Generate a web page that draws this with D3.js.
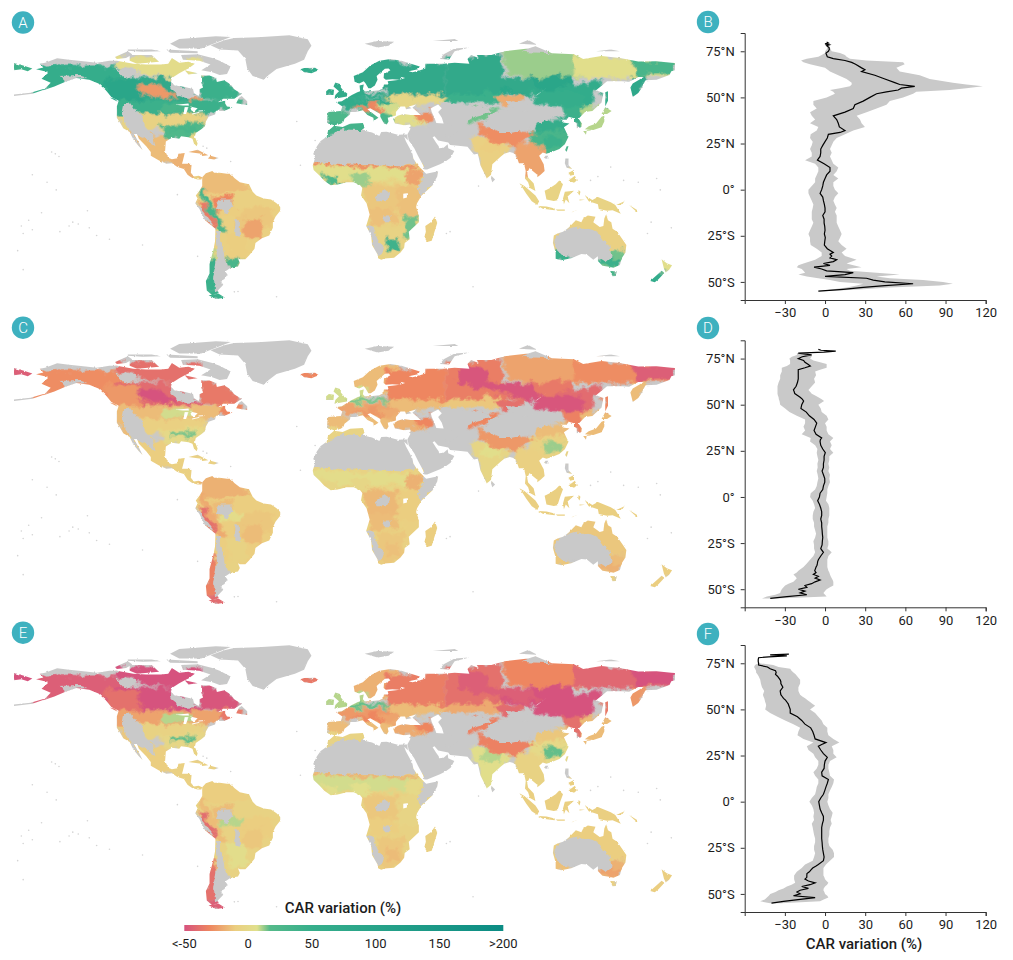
<!DOCTYPE html>
<html>
<head>
<meta charset="utf-8">
<script src="https://cdn.jsdelivr.net/npm/d3@7"></script>
<style>
  body { margin: 0; background: #fff; }
  text { font-family: Roboto, sans-serif; fill: #1c1c1c; }
</style>
</head>
<body>
<div id="chart"></div>
<script>
// ---- coastlines, [lon, lat]
const landShapes = [
  // north america
  [[-168,65.5],[-164,66.5],[-166,68.5],[-163,69],[-156.5,71.3],[-150,70.5],[-141,69.7],[-135,69],[-128,70],[-124,70],[-115,68.5],[-108,68],[-100,68],[-96,68.5],[-94,71.5],[-90,69],[-85,69.5],[-81.5,68.5],[-85,66],[-87,65],[-90,63.5],[-94,61],[-94.5,58.8],[-92.5,57],[-88,56.5],[-82.5,55.2],[-82,53],[-79.5,51.5],[-79,52.5],[-79,55],[-77,56],[-78,58.5],[-78,62.4],[-73.5,62.3],[-70,61],[-69.5,58.8],[-65.5,59.8],[-62,57.5],[-60,55],[-56,52.5],[-60,50],[-66,50],[-69,48.2],[-65,49],[-65,47.5],[-64,46],[-61,45.5],[-65.5,43.6],[-70,43.7],[-70.5,41.7],[-74,40.5],[-75.5,38],[-76,35.5],[-78,34],[-81,32],[-81.5,30],[-80,26.5],[-80.5,25],[-82,26.5],[-82.8,29],[-85,29.7],[-89,30.3],[-90,29],[-94,29.5],[-97.3,27.5],[-97.7,22.5],[-96,19],[-94,18.2],[-91,18.7],[-90.5,21],[-87,21.5],[-88,17.5],[-88.5,15.8],[-84,15.8],[-83.3,15],[-83.7,11],[-82,9],[-79.5,9.5],[-77.5,8.7],[-78,7.5],[-80,7.5],[-81,7.8],[-83,8.3],[-85.5,10],[-87.5,13],[-91,14],[-94,16],[-97,15.8],[-101,17.5],[-105.5,20],[-105.5,22],[-108,25],[-112,29],[-113,31.5],[-114.7,31.5],[-112,27],[-110,23],[-112,25],[-115,28.5],[-117,32.5],[-120.5,34.5],[-122,37],[-124,40],[-124,46],[-123,49],[-127,51],[-130,54.5],[-134,58],[-139,60],[-146,61],[-152,59],[-158,56.5],[-164,54.5],[-160,58.5],[-165,60.5],[-161,64]],
  // arctic canada
  [[-80,73.5],[-72,71.5],[-68,70],[-62,67],[-64,63],[-68,62.5],[-72,64],[-78,65],[-73,68],[-79,70],[-88,70.5],[-89,73]],
  [[-117,73],[-105,73],[-101,69.5],[-113,68.5],[-117,70]],
  [[-125,72],[-118,75],[-115.5,73.3],[-119,71.5],[-124,71]],
  [[-90,76.5],[-78,76.5],[-62,82.5],[-70,83],[-90,81.5],[-95,79]],
  [[-97,76],[-80,75],[-80,74],[-95,74.3]],
  [[-118,76],[-105,76],[-100,75],[-110,74.8],[-118,75.3]],
  [[-87,65],[-80,63.5],[-85,62.8]],
  // greenland, iceland, north atlantic
  [[-73,78.2],[-68,76],[-58,75.5],[-54,71],[-53,66],[-50,62],[-44,60],[-42,62],[-37,65.7],[-27,68.5],[-22,70.5],[-20,75],[-18,78],[-20,81.3],[-30,83.5],[-45,82.5],[-60,82],[-65,81]],
  [[-24,65.5],[-22,64],[-18,63.5],[-14,65],[-16,66.4],[-22,66.2]],
  [[-5.5,50],[1.3,51.2],[1.5,52.8],[-0.3,54],[-2,56],[-2,57.6],[-5,58.6],[-6,56.5],[-3,54],[-5,52]],
  [[-10,52],[-6,52],[-5.7,54.8],[-8.5,55.2],[-10,54]],
  [[-59,47.7],[-53,46.7],[-53,48.7],[-56,51.5],[-57.5,50.5]],
  [[-128,50.7],[-123.5,48.4],[-125,50]],
  [[11,79],[18,77],[24,78],[27,80],[18,80.5]],
  [[52,71],[57,70.7],[60,75],[68,77],[60,76.5],[54,73.5]],
  [[95,79],[105,78.5],[100,81]],
  [[48,80.5],[62,80.5],[60,81.5]],
  [[137,75],[150,75],[145,76]],
  // dateline bits
  [[-180,68.8],[-175,67.5],[-170,66],[-172.5,64.5],[-176,65.5],[-180,65]],
  [[-180,51.5],[-170,52.7],[-163,55],[-164,55.2],[-171,53.2],[-180,52.2]],
  // eurasia
  [[-9,37],[-9.5,39],[-9,43],[-2,43.5],[-1.2,46],[-4.7,48.3],[-1.5,48.7],[1.5,50.5],[4,52],[7,53.5],[8.5,54],[8.2,57],[10.5,57.5],[10,55],[11,54],[14,54],[19,54.5],[21,55.5],[21.5,57.5],[24,57.5],[23.5,59.2],[28,59.7],[30,60],[26,60.3],[22.5,60],[21.3,61],[21.5,63],[25,65],[24,66],[22,65.8],[17.5,62],[18,60],[16.5,57],[14.3,55.5],[13,55.5],[11.5,58],[10.5,59.3],[8,58],[5.5,59],[5,62],[10,64],[14,67.5],[19,70],[25,71],[31,70],[41,67],[40,65.5],[35,64.5],[37,64],[40,64.7],[44,66],[44,68.5],[54,68.5],[60,69],[68,68.5],[67,71],[69,73],[73,71.5],[72,73],[80,73],[87,75],[100,76.5],[104,77.7],[113,74],[125,73.5],[130,71],[140,72.5],[150,71.5],[160,69.7],[170,69.8],[178,69],[180,68.8],[180,65],[178,64.5],[177,62.5],[170,60],[164,59.8],[163,58],[162,56],[160,53],[157,51],[155.7,56],[157,58],[163,61.5],[160,61.5],[155,59],[151,59.2],[143,59.3],[137,54.5],[141,53],[140,48],[135,43.5],[131,43],[128,40],[127.5,39.5],[129.3,37],[129,35],[126.5,34.5],[126.5,37],[125,38],[125,39.7],[122,40.5],[121.5,39],[118,39],[119,37.5],[122.5,37],[119.5,35],[121,32],[122,30],[120,26],[117,23.5],[113,22],[110,21],[108,21.7],[106,20],[108.5,15.5],[109,12],[106.8,10],[105,8.7],[105,10],[102.5,12],[100.8,13.5],[99.5,11],[100,8.5],[103,5.5],[104,1.4],[101,3],[100,6],[98.3,8],[98.7,12],[97.7,16],[95,16],[94.3,18],[92,21.5],[90,22],[87,21],[85,19.5],[80.5,15.5],[80.2,13],[79.8,10],[77.5,8],[76,11],[74,15],[73,19.5],[72.5,21],[70.5,20.7],[69,22.3],[67,24.7],[62,25.3],[57.5,25.7],[56.5,27],[51,28],[49,30.2],[48,29.7],[50,26.7],[51.3,25],[51.5,24],[54,24.2],[56.2,26],[56.5,24],[59.8,22.5],[57.8,19],[55,17],[52,15.5],[45,12.8],[43.5,12.7],[42.8,15],[40,20],[38,24],[35,28],[34.7,29.5],[34.3,31.3],[35.8,34],[36,36.5],[32.5,36],[30.5,36.5],[27.5,37],[26.5,39.5],[29,41],[32,42],[36,41.5],[41.5,41.5],[38,44.5],[37,45.3],[39,47],[35,46],[36.5,45],[33.5,44.5],[33,46],[30.5,46],[28,43],[28,41.2],[26,40.7],[23.5,40],[24,38],[23,36.5],[21.5,37],[19.5,40.5],[19.5,42],[14,45],[12.5,44.5],[16,41.8],[18.5,40],[16.8,39],[16,38],[15.7,40],[12.5,41.5],[10,44],[6,43],[3.2,43],[3,41.7],[0,39.5],[-0.5,38],[-2,36.8],[-5.5,36]],
  // africa
  [[-5.8,35.8],[-1,35.2],[3,36.8],[10,37.3],[11,35],[10,33.8],[11.5,33],[15,32.3],[19,30.4],[20,32.5],[23,32.6],[29,31],[32.5,31.2],[34.2,31.2],[34.5,28.2],[32.5,30],[33.5,27.5],[35.5,24],[37,21],[37.5,18.5],[39.5,15.5],[43,12],[43.3,11.5],[44.5,10.5],[51,11.8],[50.5,9],[48,4.5],[42,-1],[39.5,-5],[39,-7],[40.5,-11],[40.5,-15],[35,-20],[35.5,-24],[32.8,-26],[32.5,-28.5],[30.5,-31],[27,-33.8],[22,-34.2],[20,-34.8],[18.3,-34],[18,-32],[15,-27],[14.5,-22],[11.8,-17],[13.7,-11],[12,-5],[9,-1],[9.7,3],[8.5,4.5],[5,6],[1,6],[-3,5],[-7.5,4.5],[-11,6.8],[-13.5,9.5],[-16.8,12.5],[-17.3,14.7],[-16,19],[-17,21],[-15,25],[-13,27.7],[-9.7,30],[-9,33],[-6,35.5]],
  [[49.3,-12],[50.5,-15.5],[47.5,-24.8],[45,-25.5],[43.5,-23],[44.3,-20],[44,-17],[47,-15]],
  // south america
  [[-77.5,8.7],[-75.5,10.8],[-72,12],[-71,11],[-68,11],[-64,10.5],[-62,10.5],[-60,8.3],[-57,6],[-52,5],[-50,1],[-48,-1],[-44,-2.5],[-40,-3],[-37,-5],[-35,-7],[-35,-9],[-37.5,-12],[-39,-15],[-39,-18],[-41,-22],[-45,-23.5],[-48.5,-26],[-49,-29],[-52,-32.5],[-54,-34.5],[-57,-34.5],[-58,-34],[-57,-36.5],[-58,-38.3],[-62,-39],[-65,-41],[-63.7,-42.5],[-65.5,-45],[-67.5,-46],[-66,-48],[-69,-51],[-68.5,-52.5],[-72,-53.5],[-75,-51],[-75.5,-46],[-73.5,-42],[-73.5,-37],[-71.5,-30],[-70.5,-25],[-70.3,-18.5],[-76,-14],[-79,-8],[-81.3,-5],[-80,-2.5],[-81,-1],[-79,1.5],[-77.5,4],[-77.5,7]],
  [[-68.5,-52.7],[-65,-54.8],[-70,-55.5],[-74,-53.5]],
  [[-85,22],[-80,23.2],[-74.2,20.2],[-77.5,19.9],[-78,21]],
  [[-74.4,18.5],[-73,20],[-68.5,18.8],[-71,18]],
  // australasia
  [[114,-22],[113.5,-26],[115,-31],[115,-34.3],[118,-35],[123.5,-34],[129,-31.7],[132,-32],[135.5,-34.8],[138,-33],[138,-35.5],[140.5,-38],[144,-38.5],[146.5,-39],[150,-37.5],[151,-34],[153,-31],[153.5,-27],[151,-23.5],[148.5,-20],[146,-18.5],[145.3,-15],[143.5,-14],[142.5,-10.8],[141.5,-13],[141,-17],[139,-17.5],[135.5,-15],[136.7,-12.2],[132.5,-11.5],[130,-13],[129,-15],[126,-14],[122,-18],[119,-20],[116,-21]],
  [[144.7,-40.7],[148.3,-40.8],[147.8,-43.3],[146,-43.5]],
  [[172.7,-34.5],[175.5,-36.7],[178.4,-37.7],[176.8,-40],[175,-41.5],[174,-39.5]],
  [[172.7,-40.6],[174.3,-41.7],[171,-45],[169,-46.7],[166.5,-46],[170,-43]],
  // east and southeast asia islands
  [[142,46],[143.5,49],[143.5,54],[142,53.5],[142,48]],
  [[140,42],[143,42],[145.5,43.5],[142,45.5]],
  [[130.9,34],[135.5,33.5],[140,35],[141.5,38],[141.5,41],[140,40.5],[137,37],[133,35.5]],
  [[130,33],[131.5,31],[132,33.5],[134.3,34],[134,33.3]],
  [[120.2,23],[121,22],[122,25],[121,25]],
  [[108.7,19],[110,18.3],[111,20],[109.5,20]],
  [[80,9.5],[82,7.5],[80.5,6],[79.8,8]],
  [[95.3,5.5],[98,4],[104,-1],[106,-4],[105,-6],[102,-4],[99,0],[97,3]],
  [[105.5,-6.5],[110,-6.8],[114.5,-7.8],[114.5,-8.7],[108,-7.9]],
  [[109,1.5],[111.5,2.8],[115,5],[117,7],[119,5],[117.5,1],[116,-3.5],[114,-3.8],[110,-3]],
  [[119.5,-5.5],[120.5,-3],[122.5,-5],[121.5,-1.5],[125,1.5],[120,1],[119,-2.5]],
  [[131,-1],[135,-3.3],[138,-1.7],[145,-4.5],[147.5,-6],[150.5,-10.5],[146,-8.7],[143,-9],[138.5,-8],[138,-5.5],[133,-4]],
  [[120.3,18.5],[122,18.5],[122,15],[124,13],[121,13.7],[120,16]],
  [[122,7],[125.5,9.5],[126.5,7],[125,5.8]],
  [[122,11],[125,12.5],[125,10],[123,9.5]],
  [[123.5,-10],[127,-8.5],[125,-9.3]],
  [[115,-8.3],[120,-8.3],[120,-9],[116,-9]],
  [[148,-6],[152.5,-4],[151,-6]],
  [[155,-6],[160,-9],[159,-9.5]],
  [[127.5,2],[128.5,1],[128,-1],[127.3,0]],
  [[128,-3],[131,-3.2],[128,-3.6]]
];

const inlandWater = [
  [[47,45],[51,47],[53,45],[51,43],[53,40],[54,37],[50,37.2],[49,40],[47.5,43]],
  [[-92,46.8],[-85,47.5],[-84.7,46.5],[-88,46.5]],
  [[-87.8,42],[-86.3,42],[-85,45.5],[-87,45.7]],
  [[-84,46],[-80,45],[-82,43],[-83.5,44]],
  [[-83,41.7],[-79,42.7],[-79.2,43],[-83,42.3]],
  [[-79.5,43.3],[-76.3,43.5],[-76.3,44],[-79.5,43.8]],
  [[104,51.6],[110,55.7],[109,55],[105,52]],
  [[30,60],[33,61],[31,61.5]],
  [[32,-2.5],[34,-2],[34,0.3],[32,0]]
];

// tiny pacific and indian ocean islands
const specks = [[-157.5,21],[-155.5,19.6],[-159.5,22],[-91,-0.5],[-172,-14],[-175,-21],[178,-18],[170,8],[172,2],[167,-15],[165,-21],[-150,-17],[-145,-16],[-140,-9],[-139,-18],[-148,-15],[-170,-19],[-176,-17],[160,6],[152,7],[145,14],[138,9],[134,7],[55.5,-21],[57.5,-20],[73,4],[-60,-51.7],[-58,-51.5],[-37,-54.3],[70,-49],[-16,28],[-24,15],[-26,38],[-175,-40],[-178,-30],[-165,-10],[-155,-20],[-135,-22],[-128,-24],[-110,-27],[-80,-33],[-170,10],[-162,6],[-157,2],[-75,24],[-77,25],[-62,17]];

// ---- CAR variation patches: painted in this order over the land
const zoneShapes = [
  [[-125,72],[-78,72],[-78,62],[-95,61],[-110,63],[-125,67]],
  [[-170,67],[-140,68.5],[-125,67],[-115,62],[-120,55],[-130,52],[-140,58],[-170,52]],
  [[-125,62],[-95,61],[-85,55],[-78,50],[-95,48],[-120,49],[-128,54]],
  [[-132,60],[-112,60],[-110,49],[-120,45],[-126,48]],
  [[-115,57],[-100,57],[-95,53],[-90,51],[-97,49.5],[-108,52]],
  [[-85,52],[-76,51],[-78,48.5],[-85,49]],
  [[-80,63],[-64,60],[-56,52],[-66,49],[-78,50]],
  [[-72,49],[-60,50],[-52,47],[-60,44],[-70,43],[-75,45]],
  [[-125,49],[-65,49],[-68,43],[-80,40],[-95,42],[-112,42],[-125,42]],
  [[-125,42],[-118,42],[-115,33],[-120,33]],
  [[-112,42],[-75,42],[-75,36],[-95,34],[-105,34],[-112,36]],
  [[-100,47],[-82,47],[-82,43],[-100,43]],
  [[-100,36],[-76,38],[-76,29],[-98,28]],
  [[-95,35.5],[-82,35.5],[-82,32.5],[-95,32.5]],
  [[-84,31],[-79,31],[-79,24],[-84,24]],
  [[-118,33],[-97,30],[-94,16],[-106,17]],
  [[-98,22],[-68,24],[-76,6],[-90,11]],
  // south america
  [[-83,13],[-60,13],[-34,-5],[-36,-24],[-50,-36],[-60,-40],[-75,-36],[-72,-18],[-82,-5]],
  [[-80,12],[-60,12],[-50,2],[-70,0],[-78,0]],
  [[-72,-2],[-62,-1],[-60,-8],[-70,-10]],
  [[-60,-8],[-40,-6],[-38,-15],[-50,-22],[-60,-18]],
  [[-55,-14],[-44,-14],[-46,-24],[-55,-24]],
  [[-68,-8],[-55,-7],[-55,-11],[-68,-12]],
  [[-65,-20],[-55,-20],[-52,-32],[-62,-35]],
  [[-65,-34],[-56,-34],[-57,-39],[-65,-39]],
  [[-79,3],[-76,3],[-72,-6],[-66,-15],[-64,-20],[-68,-20],[-76,-8]],
  [[-81,-4],[-77,-5],[-69,-17],[-71,-18],[-76,-12]],
  [[-72,-30],[-69,-30],[-70,-37],[-74,-37]],
  [[-76,-36],[-70,-36],[-70,-51],[-76,-51]],
  [[-76,-51],[-64,-51],[-64,-56],[-76,-56]],
  // africa
  [[-20,18],[52,18],[52,-36],[10,-36]],
  [[-18,15.5],[10,14],[40,13.5],[40,7],[10,7],[-15,8]],
  [[-18,17.5],[10,16],[40,15],[40,13.5],[10,14],[-18,15.5]],
  [[-14,10],[-5,9],[0,5],[-8,4]],
  [[3,10],[14,10],[14,3],[5,4]],
  [[10,5],[30,5],[30,-8],[12,-8]],
  [[13,-8],[28,-8],[30,-16],[14,-17]],
  [[29,4],[42,3],[40,-12],[30,-12]],
  [[34,14],[43,12],[40,4],[34,4]],
  [[33,-12],[41,-12],[36,-24],[30,-22]],
  [[18,-18],[32,-18],[33,-30],[27,-34],[18,-34]],
  [[22,-24],[30,-24],[30,-30],[23,-30]],
  [[43,-11],[51,-11],[48,-26],[43,-26]],
  // europe
  [[4,71],[30,71],[30,55],[4,55]],
  [[22,68],[55,70],[55,50],[22,50]],
  [[-5,50],[30,50],[30,45],[-5,45]],
  [[-11,59],[12,59],[12,50],[-11,50]],
  [[2,53],[25,53],[25,50.5],[2,50.5]],
  [[22,52],[58,52],[55,47],[28,46]],
  [[10,47],[30,47],[30,40],[12,40]],
  [[3,46],[16,47.5],[22,44],[20,43],[12,44]],
  [[-10,44],[3,44],[2,36],[-10,36]],
  [[-10,37.5],[12,38],[12,32],[-10,29]],
  [[8,45],[30,41],[28,36],[15,36]],
  [[26,43],[45,43],[45,36],[26,36]],
  [[38,43],[48,43],[47,37],[40,38]],
  [[-25,67],[-13,67],[-13,63],[-25,63]],
  // russia and central asia
  [[55,72],[85,74],[90,50],[55,52]],
  [[85,77],[140,75],[140,62],[110,60],[90,62]],
  [[125,73],[180,72],[180,62],[150,60],[125,62]],
  [[155,71],[180,70],[180,63],[160,62]],
  [[-180,70],[-168,70],[-168,63],[-180,63]],
  [[85,60],[125,62],[125,52],[95,52],[85,54]],
  [[115,56],[140,60],[135,48],[130,42],[118,46]],
  [[62,70],[75,70],[78,62],[100,60],[108,54],[100,52],[80,57],[62,60]],
  [[155,62],[165,62],[162,50],[155,50]],
  [[100,54],[130,54],[130,46],[105,47]],
  [[55,52],[85,54],[85,48],[55,47]],
  [[82,52],[98,52],[96,48],[84,47]],
  [[68,44],[85,45],[82,40],[68,37]],
  // south and east asia
  [[100,33],[122,33],[122,21],[105,21]],
  [[105,38],[125,41],[122,33],[103,33]],
  [[118,46],[135,46],[130,33],[122,38]],
  [[92,27],[110,25],[110,6],[98,6],[92,18]],
  [[68,30],[90,27],[88,21],[78,5],[72,20]],
  [[75,30],[88,27],[85,22],[75,22]],
  [[72,37],[82,35],[100,33],[104,30],[95,26],[85,26],[75,30]],
  [[108,30],[118,30],[118,25],[108,25]],
  [[129,30],[146,30],[146,46],[129,46]],
  [[141,55],[145,55],[145,46],[141,46]],
  [[94,8],[162,20],[162,-12],[94,-12]],
  // oceania
  [[113,-10],[155,-10],[155,-30],[113,-30]],
  [[138,-30],[155,-30],[148,-40],[138,-40]],
  [[112,-30],[122,-30],[122,-36],[112,-36]],
  [[138,-34],[150,-34],[150,-38],[138,-38]],
  [[144,-40],[149,-40],[149,-44],[144,-44]],
  [[172,-34],[179,-34],[179,-42],[172,-42]],
  [[165,-41],[175,-41],[172,-48],[165,-48]]
];

const carA = [3,55,70,85,-25,-25,45,35,45,-5,-6,30,22,30,-2,-15,-18,
  -8,-15,-30,-12,-22,-10,-10,30,30,-35,10,45,45,
  -6,5,-30,25,12,-12,-14,-14,-22,15,-5,40,-10,
  70,70,60,65,65,-2,8,-30,25,35,30,5,-28,60,
  70,12,5,30,40,85,60,70,75,55,45,-20,15,
  30,55,45,-22,-8,-10,-28,45,10,55,-5,
  -8,15,45,45,30,5,60];
const carC = [-38,-28,-40,-25,-50,-45,-35,-30,-15,-15,-8,8,0,14,-6,-10,-8,
  -10,-18,-15,-12,-15,3,-6,-6,-20,-38,-35,-32,-40,
  -7,3,-5,-3,-2,-16,-15,-10,-18,-8,-12,-14,-10,
  -15,-30,-22,8,14,-15,-20,-25,-15,-5,-15,-18,-30,-30,
  -33,-22,-28,-45,-45,-35,-40,-48,-15,-48,-12,-38,-30,
  -6,-15,-32,-8,-3,5,-25,12,-15,-30,-9,
  -12,-15,-12,-18,-8,-10,-10];
const carE = [-50,-45,-50,-38,-50,-50,-48,-35,-22,-12,-6,10,-2,16,-6,-10,-8,
  -6,-10,-15,-10,-12,10,4,-6,-15,-40,-35,-38,-45,
  -6,8,-18,5,6,-12,-10,-4,0,-6,-12,-15,-8,
  -18,-33,-25,10,16,-15,-22,-30,-15,-5,-15,-20,-30,-35,
  -38,-30,-42,-50,-50,-50,-50,-45,-25,-50,-20,-40,-32,
  0,-12,-38,-6,5,10,-32,16,-15,-35,-9,
  -10,-18,-14,-22,-8,-10,-10];

// bare ground, always grey
const bareShapes = [
  [[-18,16.8],[0,15.5],[15,15],[30,14.5],[38,15.5],[38,24],[36,30],[35,32],[20,33],[12,33.5],[8,33.5],[0,33.8],[-5,32.5],[-8,30],[-13,28]],
  [[42,12],[52,12.5],[50,7],[46,3],[41,-2],[40,3],[43,7]],
  [[35,31],[37,35],[43,36],[47,33],[52,31],[57,30],[62,33],[67,33],[67,26],[60,25],[56,26],[60,22],[55,16],[45,12],[43,13],[42,16],[38,24]],
  [[50,47],[55,48.5],[62,47],[70,46],[78,45.5],[80,43],[72,41],[68,39],[65,36],[60,36],[55,37],[53,42],[50,44]],
  [[77,39],[80,42],[86,44],[92,45],[98,43],[105,45],[112,45],[118,44],[120,42],[112,40],[107,38],[103,37],[100,35],[95,33],[90,32],[85,32],[80,34],[76,36]],
  [[88,49],[98,48],[104,46],[96,44],[90,45]],
  [[12,-17],[16,-18],[18,-24],[21,-28],[20,-32],[18,-33],[15,-27],[14,-22]],
  [[17,-1],[22,2],[25,0],[23,-4],[18,-4]],
  [[21,-12],[25,-12],[25,-15],[22,-15]],
  [[114,-24],[118,-20],[125,-18],[130,-18],[135,-19],[139,-21],[141,-24],[145,-28],[146,-33],[142,-36],[137,-33],[132,-32],[124,-33],[118,-32],[115,-28]],
  [[-70,-19],[-68,-20],[-66,-30],[-65,-35],[-64,-39],[-63.5,-41],[-65,-45],[-66,-48],[-69,-51],[-70.5,-51],[-71,-45],[-70,-38],[-69.5,-33],[-70,-25]],
  [[-68,-3],[-62,-3],[-60,-7],[-65,-10],[-70,-8]],
  [[-60,-14],[-57,-14],[-57,-22],[-60,-22]],
  [[-81.5,-5],[-79,-7],[-72,-16],[-71,-18],[-76,-14],[-80,-8]],
  [[-120,47],[-117,48],[-114,44],[-110,40],[-108,34],[-104,30],[-103,25],[-106,27],[-110,30],[-113,31],[-116,32.5],[-118,35],[-120,38],[-121,42]],
  [[-117,32.5],[-114.7,31.5],[-110,23],[-112,25],[-115,28.5]],
  [[-166,68.5],[-156,71.5],[-141,70],[-135,69],[-128,70],[-122,70],[-125,68],[-140,68],[-155,68],[-164,67.5]],
  [[-155,62],[-145,62.5],[-140,61],[-146,60.5],[-152,59]],
  [[-95,59],[-92,57],[-85,55.5],[-82,55],[-82,52],[-80,51],[-85,50.5],[-90,52],[-94,55]],
  [[-125,65],[-118,67],[-112,65],[-115,62],[-120,61],[-122,63]],
  [[96,75],[105,77.7],[113,74],[100,74.5]]
];

// ---- latitudinal profiles (panels B, D, F)
const latMean = [80,79.5,79,78.5,78,77,76,75,74,73,72,71,70,69,68,66,65,64,62,60,58,57,56,55,54,53,52,50,48,46,44,42,40,38,36,34,32,31,30,28,26,24,22,20,18,16,14,12,10,8,6,4,2,0,-2,-4,-6,-8,-10,-12,-14,-16,-18,-20,-22,-24,-26,-28,-30,-32,-34,-35,-36,-37,-38,-39,-40,-41,-42,-43,-44,-45,-46,-47,-48,-49,-50,-51,-52,-53,-54,-55];
const meanB = [1.2,2.5,0,3.2,1.2,3,3.2,2.5,.7,1.2,1.7,6.2,14.9,19.9,22.8,27.3,29.8,27.3,37.2,44.7,52.1,55.8,67,57.1,54.6,45.9,38.5,33.5,28.5,22.3,21.1,14.9,6.2,8.7,9.9,10.7,14.9,11.2,2.5,1.7,0,-1.7,-3.2,-3.2,-3.7,-5.7,-.7,3.7,3.7,1.2,0,-1.2,-1.7,-2.5,-3.7,-1.7,-1.2,-.5,0,0,-1.7,-.7,-.7,-.2,0,-.5,.2,-.2,-.5,1.7,6.2,3.7,5,3.7,8.7,6.2,-1.2,3.7,-8.2,-2.5,1.2,21.1,14.9,0,31,36,44.7,65.8,44.7,28.5,13.6,-5];
const meanD = [-5,-3,8,-1,-20,-10,-17,-20,-16,-15,-13,-11,-15,-20,-20,-20,-20,-20,-20.6,-21.6,-23.6,-23,-22.6,-20.5,-18.6,-17,-16,-17.4,-18,-14,-11.7,-8.2,-6.2,-7.2,-8.2,-6.7,-2.5,-3.5,-3.7,-3.2,-1.7,.2,-.7,-.7,-1.2,-1.2,-2.2,-1.2,-.2,-.2,-1.2,-1.7,-3.7,-4.2,-5.5,-4.2,-3.2,-2.5,-2.5,-3.2,-2.5,-2.5,-2.2,-2,-1.7,-2,-2.2,-3.2,-1.2,-3.2,-5,-5.5,-5.7,-6,-6.7,-7.2,-7.7,-6.7,-8.7,-5,-7.4,-3.7,-7.4,-10,-15,-13.6,-19.9,-15,-18.6,-13.6,-28.5,-40.9];
const meanF = [-27,-41,-28.5,-42,-49.6,-49.9,-49.9,-49.6,-49.6,-43,-41,-37,-36.5,-37,-35.5,-33.5,-33,-33,-31.5,-33.5,-33,-32,-31,-29.5,-28.5,-27.5,-27,-26,-26,-20.6,-17.4,-15,-10.7,-9.2,-8.2,-7.4,.7,-2.5,-5,-3.2,-1.2,1.7,0,-.5,-.7,-2.5,-2.2,2.5,1.7,.7,-.2,-1.2,-3.2,-4.7,-4.2,-3.7,-2.5,-1.2,-1.2,-2,-2.5,-2.5,-2.5,-2.5,-2.2,-2,-1.7,-1.2,-.7,-1.2,-5,-7,-9.2,-10.5,-11.7,-13.5,-13.6,-13.6,-15,-12.4,-7.4,-11.2,-17.4,-12.4,-18.6,-21,-18.6,-23.6,-7.4,-18.6,-31,-40];

const latBand = [78,77,76,75,74,73,72,71,70,69,68,66,64,62,60,58,57,56,55,54,53,52,50,48,46,44,42,40,38,36,34,32,30,28,26,24,22,20,18,16,14,12,10,8,6,4,2,0,-2,-4,-6,-8,-10,-12,-14,-16,-18,-20,-22,-24,-26,-28,-30,-32,-34,-36,-38,-40,-41,-42,-43,-44,-45,-46,-47,-48,-49,-50,-51,-52,-53,-54,-55];
const lowB = [1.7,1.7,1.2,0,0,-2.5,-5,-13.6,-17.9,-16.1,-11.2,0,3.7,9.9,16.1,19.9,19.9,18.6,11.2,3.7,6.2,7.4,1.2,-8.7,-8.7,-6.2,-11.2,-9.9,-7.4,-11.2,-5,-6.2,-10.7,-11.2,-9.2,-9.9,-11.2,-9.9,-9.9,-14.9,-7.4,-5,-5,-6.2,-7.4,-7.4,-9.9,-12.4,-12.4,-11.2,-9.9,-8.7,-9.2,-9.9,-9.9,-9.9,-8.7,-9.9,-11.2,-12.4,-11.2,-11.2,-10.7,-6.2,-2.5,-2.5,-7.4,-16.1,-19.9,-21.1,-17.4,-16.1,-14.9,-19.9,-13.6,-5,3.7,11.2,28.5,23.6,16.1,6.2,-5];
const highB = [3.2,3.7,4.2,5,11.2,14.9,16.1,18.6,31,58.3,59.5,53.3,55.8,70.7,78.2,95.5,105.5,117.9,105.5,93.1,68.2,65.8,58.3,48.4,45.9,38.5,31,23.6,26.1,27.3,29.8,21.1,14.9,8.7,6.2,5,3.7,5,3.7,5,6.2,9.9,8.7,6.2,9.9,6.2,6.2,7.4,9.9,7.4,6.2,7.4,8.7,7.4,8.7,8.7,8.7,9.9,11.2,12.4,11.2,9.9,12.4,16.1,12.4,14.9,23.6,16.1,21.1,27.3,16.1,18.6,38.5,55.8,38.5,48.4,73.2,88.1,95.5,85.6,48.4,28.5,-1.2];
const lowD = [-21,-21,-24.8,-26.6,-26.1,-26.1,-26.1,-28.5,-32.3,-32.3,-32.3,-33.5,-33.5,-34.7,-35.5,-35.5,-35.5,-35.5,-35.2,-34.7,-34.5,-34,-33.5,-29.8,-26.6,-21.1,-14.9,-14.9,-16.1,-14.9,-17.4,-10.7,-11.2,-7.4,-5.7,-6.2,-5.7,-5,-5.7,-5.5,-6.2,-5.5,-5,-5.7,-6.2,-7.4,-10.7,-11.2,-9.2,-8.2,-7.4,-8.7,-9.2,-9.2,-8.2,-8.2,-7.4,-6.7,-7.4,-8.7,-8.2,-8.2,-7.4,-8.7,-11.2,-13.6,-16.1,-19.9,-21.1,-23.6,-22.3,-21.1,-22.3,-23.6,-27.3,-29.8,-31,-32.3,-33,-33.5,-37.2,-43.4,-47.1];
const highD = [-19,-10,-10,-11.2,-8.7,-3.7,1.2,1.2,1.2,-3.7,-7.4,-6.7,-8.2,-7.4,-9.9,-12.4,-11.2,-9.9,-7.4,-5,-2.5,-.7,-5,-3.2,-2.5,1.2,2.5,0,1.2,1.2,2.5,6.2,3.7,5,3.7,6.2,3.2,3.2,2.5,3.2,2.5,3.7,3.2,3.7,2.5,1.7,1.7,1.2,.7,2.5,3.2,3.2,3.2,2.5,2.5,1.7,1.7,1.7,1.7,2.5,2.5,1.7,5,2.5,1.7,1.7,1.7,2.5,3.2,3.7,4.2,5,5.7,6.2,6.2,6.2,3.7,1.2,0,-1.2,0,1.2,-36];
const lowF = [-49.9,-49.9,-50,-50,-52.3,-53,-52.3,-51.5,-51.5,-50.5,-49.6,-48.4,-47.9,-47.1,-45.4,-46.4,-46,-45.4,-45,-44.7,-44.2,-44,-44.7,-41,-35.5,-29.8,-23.6,-18.6,-19.9,-20.6,-16.1,-8.7,-13.6,-12.4,-8.7,-7.4,-5,-5,-6.2,-8.7,-7.4,-5,-5,-6.2,-6.7,-7.4,-9.9,-11.7,-9.9,-8.7,-8.2,-8.7,-8.2,-9.9,-9.2,-8.7,-8.2,-7.4,-7.4,-8.2,-8.2,-7.4,-8.2,-9.2,-14.9,-17.4,-21.1,-23.1,-23.1,-23.1,-22.7,-22.3,-25,-28.5,-31,-34.7,-37,-40.9,-42,-43.4,-45,-48.4,-41];
const highF = [-49.5,-49.5,-49.5,-49,-38.7,-34.7,-26,-25,-23.6,-22,-20.8,-18.6,-18.6,-19.9,-19.9,-18.6,-17,-14.9,-13,-11.2,-9.5,-7.4,-11.2,-7.4,-5,-2.5,-1.2,1.7,1.7,2.5,6.2,10.7,5,6.2,6.2,8.7,3.7,2.5,2.5,3.2,3.7,6.7,6.2,5,3.7,2.5,2.5,1.7,2.5,3.7,5.7,5,4.2,5,3.7,3.2,3.2,2.5,2.5,3.2,5.7,6.7,6.7,3.7,.7,-1.2,-1.2,-1.2,-.5,0,1.2,2.5,1.5,0,-1,-1.2,-.5,0,1.7,2.5,-1,-3.7,-33];

const xTicks = [-30,0,30,60,90,120];
const latTicks = [75,50,25,0,-25,-50];
const legendTicks = [-50,0,50,100,150,200];
const legendLabels = ["<-50","0","50","100","150",">200"];

const colorStops = [-50,-30,-10,7,17,50,200];
const colorRange = ["#d6527e","#ee8660","#ebce80","#e0e08d","#55ba8a","#36ae8b","#0b8c84"];
const grey = "#c9c9c9";
const badge = "#3eb1bf";

const width = 1013, height = 960;
const svg = d3.select("#chart").append("svg")
  .attr("width", width)
  .attr("height", height)
  .style("display", "block");

const color = d3.scaleLinear().domain(colorStops).range(colorRange).clamp(true);

// same scales for all 3 maps, each map is just moved down
const lonScale = d3.scaleLinear().domain([-180,180]).range([14,675]);
const latScale = d3.scaleLinear().domain([0,83.6]).range([193.7,35]);
const mapPath = d3.geoPath(d3.geoTransform({
  point(lon, lat) { this.stream.point(lonScale(lon), latScale(lat)); }
}));
const polygon = ring => ({type: "Polygon", coordinates: [ring.concat([ring[0]])]});

const defs = svg.append("defs");

// noise filters give the patches and coasts their rough edges
function noiseFilter(id, blur, freq, scale, seed) {
  const f = defs.append("filter").attr("id", id)
    .attr("filterUnits", "userSpaceOnUse")
    .attr("x", 0).attr("y", 0).attr("width", 700).attr("height", 330);
  f.append("feGaussianBlur").attr("in", "SourceGraphic").attr("stdDeviation", blur).attr("result", "b");
  f.append("feTurbulence").attr("type", "fractalNoise").attr("baseFrequency", freq)
    .attr("numOctaves", 3).attr("seed", seed).attr("result", "n");
  f.append("feDisplacementMap").attr("in", "b").attr("in2", "n").attr("scale", scale)
    .attr("xChannelSelector", "R").attr("yChannelSelector", "G");
}
noiseFilter("mottle", 1.3, 0.11, 13, 4);
noiseFilter("bareEdge", 0.3, 0.16, 6, 9);
noiseFilter("coast", 0.2, 0.3, 2, 2);

const landMask = defs.append("mask").attr("id", "land")
  .attr("maskUnits", "userSpaceOnUse")
  .attr("x", 0).attr("y", 0).attr("width", 700).attr("height", 330);
const maskInner = landMask.append("g").attr("filter", "url(#coast)");
maskInner.selectAll("path.l").data(landShapes).enter().append("path")
  .attr("class", "l").attr("d", d => mapPath(polygon(d))).attr("fill", "#fff");
maskInner.selectAll("path.w").data(inlandWater).enter().append("path")
  .attr("class", "w").attr("d", d => mapPath(polygon(d))).attr("fill", "#000");

function drawMap(offset, values) {
  const g = svg.append("g").attr("transform", `translate(0,${offset})`);
  const land = g.append("g").attr("mask", "url(#land)");
  land.append("rect").attr("width", 700).attr("height", 330).attr("fill", grey);
  land.append("g").attr("filter", "url(#mottle)")
    .selectAll("path").data(zoneShapes).enter().append("path")
    .attr("d", d => mapPath(polygon(d)))
    .attr("fill", (d, i) => color(values[i]));
  land.append("g").attr("filter", "url(#bareEdge)")
    .selectAll("path").data(bareShapes).enter().append("path")
    .attr("d", d => mapPath(polygon(d)))
    .attr("fill", grey);
  g.append("g").selectAll("circle").data(specks).enter().append("circle")
    .attr("cx", d => lonScale(d[0]))
    .attr("cy", d => latScale(d[1]))
    .attr("r", 0.8)
    .attr("fill", "#d4d4d4");
}
drawMap(0, carA);
drawMap(305, carC);
drawMap(610, carE);

// profile panels
const xProfile = d3.scaleLinear().domain([-60,120]).range([744.7,985.7]);
const yProfile = d3.scaleLinear().domain([-59.8,84.9]).range([300,33]);

function drawProfile(offset, mean, low, high) {
  const g = svg.append("g").attr("transform", `translate(0,${offset})`);

  const area = d3.area()
    .x0((d, i) => xProfile(low[i]))
    .x1((d, i) => xProfile(high[i]))
    .y(d => yProfile(d));
  g.append("path").datum(latBand).attr("d", area).attr("fill", grey);

  const line = d3.line()
    .x((d, i) => xProfile(mean[i]))
    .y(d => yProfile(d));
  g.append("path").datum(latMean).attr("d", line)
    .attr("fill", "none").attr("stroke", "#000").attr("stroke-width", 1.2);

  const xAxis = g.append("g").attr("transform", "translate(0,300)")
    .call(d3.axisBottom(xProfile).tickValues(xTicks).tickSizeOuter(0).tickSize(4).tickPadding(4));
  const yAxis = g.append("g").attr("transform", "translate(744.7,0)")
    .call(d3.axisLeft(yProfile).tickValues(latTicks).tickSizeOuter(0).tickSize(4).tickPadding(6)
      .tickFormat(d => d === 0 ? "0°" : `${Math.abs(d)}°${d > 0 ? "N" : "S"}`));
  [xAxis, yAxis].forEach(a => {
    a.selectAll("text").style("font-family", "Roboto, sans-serif").style("font-size", "13px").attr("fill", "#1c1c1c");
    a.selectAll("line").attr("stroke", "#333");
    a.select(".domain").attr("stroke", "#333");
  });
}
drawProfile(0, meanB, lowB, highB);
drawProfile(307.3, meanD, lowD, highD);
drawProfile(612, meanF, lowF, highF);

svg.append("text")
  .attr("x", 864).attr("y", 949)
  .attr("text-anchor", "middle")
  .style("font-size", "15px").style("font-weight", 500)
  .text("CAR variation (%)");

// badges
const badgeLetters = ["A","B","C","D","E","F"];
const badgeX = [23,708,23,708,23,708];
const badgeY = [22.5,22,327.7,328,632.7,634];
const badges = svg.append("g").selectAll("g").data(badgeLetters).enter().append("g")
  .attr("transform", (d, i) => `translate(${badgeX[i]},${badgeY[i]})`);
badges.append("circle").attr("r", 11.2).attr("fill", badge);
badges.append("text")
  .attr("text-anchor", "middle").attr("y", 5.3)
  .style("font-size", "15px").style("font-weight", 300).style("fill", "#fff")
  .text(d => d);

// colour legend
const xLegend = d3.scaleLinear().domain([-50,200]).range([184.3,503.3]);
const grad = defs.append("linearGradient").attr("id", "carRamp");
colorStops.forEach(v => {
  grad.append("stop")
    .attr("offset", (v + 50) / 250)
    .attr("stop-color", color(v));
});
svg.append("rect")
  .attr("x", xLegend(-50)).attr("y", 925)
  .attr("width", xLegend(200) - xLegend(-50)).attr("height", 6)
  .attr("fill", "url(#carRamp)");
svg.append("text")
  .attr("x", 343).attr("y", 913)
  .attr("text-anchor", "middle")
  .style("font-size", "15px").style("font-weight", 500)
  .text("CAR variation (%)");
svg.append("g").selectAll("text").data(legendTicks).enter().append("text")
  .attr("x", d => xLegend(d)).attr("y", 948)
  .attr("text-anchor", "middle")
  .style("font-size", "13px")
  .text((d, i) => legendLabels[i]);
</script>
</body>
</html>
